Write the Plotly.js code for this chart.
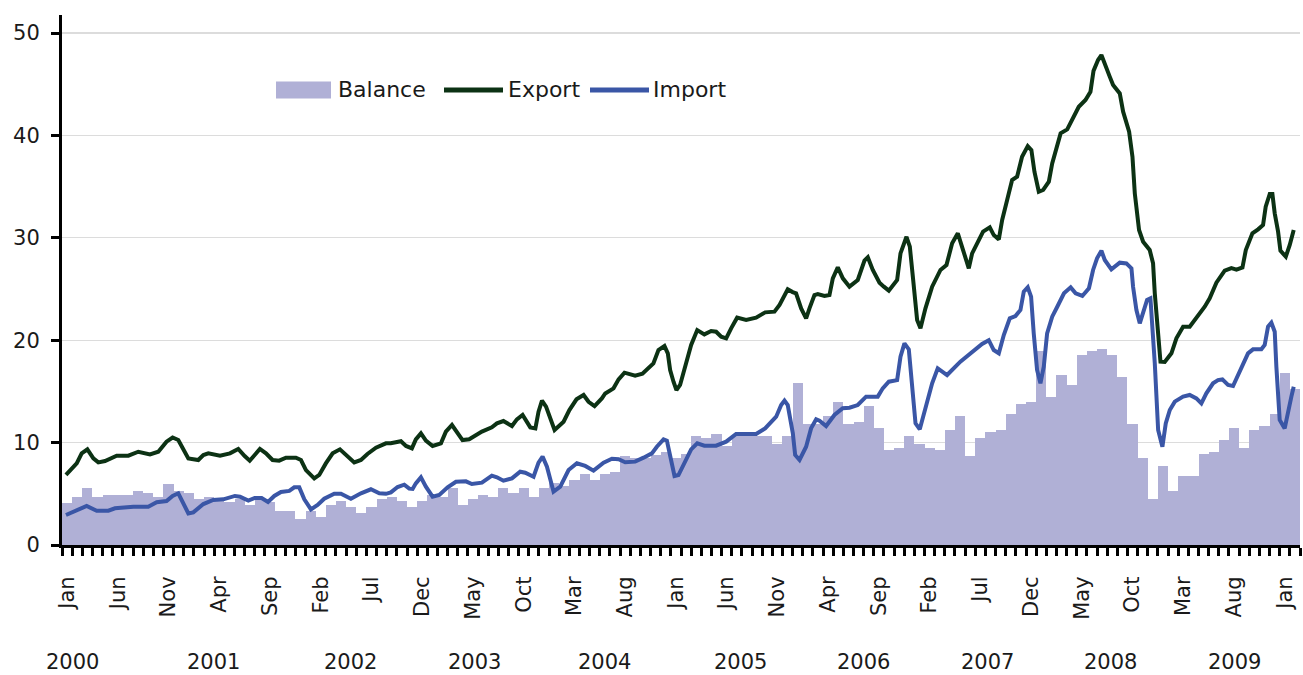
<!DOCTYPE html>
<html>
<head>
<meta charset="utf-8">
<script src="https://cdn.plot.ly/plotly-3.0.1.min.js"></script>
<style>
  html, body { margin: 0; padding: 0; background: #ffffff; }
  #chart { width: 1303px; height: 675px; }
</style>
</head>
<body>
<div id="chart"></div>
<script>
// ---------------- DATA ----------------
// Monthly trade balance, Jan 2000 .. Feb 2010 (one value per month)
const balance = [
  4.13, 4.69, 5.57, 4.69, 4.88, 4.88, 4.88, 5.27, 5.08, 4.69, 5.96, 5.27,   // 2000
  5.08, 4.49, 4.69, 4.49, 4.20, 4.50, 3.94, 4.40, 4.20, 3.35, 3.35, 2.57,   // 2001
  3.35, 2.77, 3.90, 4.33, 3.70, 3.16, 3.70, 4.49, 4.69, 4.33, 3.70, 4.33,   // 2002
  4.88, 4.70, 5.60, 3.90, 4.49, 4.92, 4.72, 5.60, 5.08, 5.60, 4.72, 5.60,   // 2003
  6.05, 5.80, 6.35, 6.96, 6.35, 6.96, 7.13, 8.72, 8.53, 8.53, 8.80, 9.11,   // 2004
  8.53, 8.89, 10.64, 10.48, 10.81, 9.70, 10.64, 10.64, 10.64, 10.64, 9.86, 10.64, // 2005
  15.80, 11.78, 11.78, 12.60, 13.96, 11.78, 11.98, 13.57, 11.40, 9.28, 9.47, 10.64, // 2006
  9.86, 9.47, 9.28, 11.23, 12.60, 8.69, 10.45, 11.04, 11.23, 12.79, 13.77, 13.96, // 2007
  18.91, 14.45, 16.60, 15.60, 18.55, 18.90, 19.10, 18.55, 16.40, 11.80, 8.50, 4.49, // 2008
  7.70, 5.27, 6.74, 6.74, 8.89, 9.08, 10.25, 11.43, 9.47, 11.23, 11.62, 12.79, // 2009
  16.80, 15.23                                                              // 2010
];

// Export and Import: time in months since Jan 2000 (0 = start of Jan 2000) and value
const exportT = [
  0.39, 1.45, 1.94, 2.5, 3.09, 3.58, 4.24, 4.73, 5.39, 6.54, 7.52, 8.67, 9.49, 10.3, 10.9, 11.46,
  12.45, 13.43, 13.93, 14.42, 14.9, 15.57, 16.55, 17.37, 18.0, 18.5, 19.5, 20.1, 20.75, 21.4, 22.07, 23.05,
  23.55, 24.04, 24.86, 25.35, 26.0, 26.67, 27.39, 28.14, 28.8, 29.46, 30.1, 30.94, 31.92, 32.4, 33.07, 33.4,
  33.9, 34.48, 34.87, 35.37, 35.86, 36.52, 37.34, 37.83, 38.43, 38.98, 39.47, 40.13, 40.78, 41.38, 42.36, 42.86,
  43.5, 44.34, 44.83, 45.39, 46.15, 46.65, 46.96, 47.3, 47.7, 48.3, 48.54, 49.43, 50.0, 50.7, 51.4, 51.89,
  52.48, 53.2, 53.53, 54.35, 54.85, 55.43, 56.48, 57.2, 58.28, 58.78, 59.37, 59.7, 59.93, 60.26, 60.55, 60.91,
  61.18, 61.51, 62.0, 62.6, 63.3, 63.97, 64.46, 64.96, 65.45, 65.94, 66.53, 67.42, 68.4, 69.29, 70.21, 70.71,
  71.52, 72.0, 72.34, 72.84, 73.33, 73.66, 74.15, 74.48, 75.14, 75.63, 75.96, 76.45, 76.95, 77.6, 78.42, 79.08,
  79.41, 79.9, 80.56, 80.99, 81.48, 82.3, 82.63, 83.22, 83.55, 83.88, 84.27, 84.6, 85.09, 85.75, 86.57, 87.16,
  87.72, 88.28, 88.8, 89.36, 89.69, 90.18, 90.77, 91.43, 91.82, 92.32, 92.65, 93.14, 93.63, 94.12, 94.61, 95.17,
  95.53, 95.83, 96.26, 96.69, 97.25, 97.58, 98.08, 98.41, 99.06, 99.56, 100.2, 100.86, 101.35, 101.65, 102.1, 102.43,
  102.76, 103.25, 103.58, 104.24, 104.57, 105.16, 105.49, 105.72, 106.14, 106.54, 107.19, 107.52, 107.69, 108.02, 108.25, 108.67,
  109.33, 109.82, 110.48, 111.13, 111.96, 112.61, 113.1, 113.76, 114.58, 115.24, 115.74, 116.33, 116.66, 117.31, 117.87, 118.36,
  118.62, 119.02, 119.28, 119.51, 119.84, 120.07, 120.6, 120.99, 121.38
];
const exportV = [
  6.84, 7.97, 8.95, 9.34, 8.46, 8.07, 8.2, 8.46, 8.72, 8.72, 9.11, 8.85, 9.11, 10.09, 10.5, 10.25,
  8.46, 8.3, 8.79, 8.95, 8.85, 8.72, 8.95, 9.38, 8.69, 8.23, 9.38, 8.95, 8.3, 8.24, 8.53, 8.53,
  8.3, 7.32, 6.51, 6.84, 7.97, 8.95, 9.34, 8.62, 8.07, 8.3, 8.89, 9.5, 9.93, 9.93, 10.13, 10.13,
  9.67, 9.44, 10.32, 10.9, 10.19, 9.67, 9.93, 11.07, 11.72, 10.97, 10.25, 10.32, 10.71, 11.07, 11.49, 11.88,
  12.11, 11.62, 12.27, 12.7, 11.49, 11.39, 13.02, 14.09, 13.51, 11.88, 11.23, 12.04, 13.18, 14.23, 14.65, 13.99,
  13.57, 14.32, 14.8, 15.3, 16.18, 16.83, 16.53, 16.73, 17.74, 19.04, 19.43, 18.72, 17.09, 15.95, 15.14, 15.63,
  16.6, 17.9, 19.53, 20.99, 20.57, 20.9, 20.83, 20.34, 20.18, 21.16, 22.2, 21.97, 22.2, 22.72, 22.79, 23.44,
  24.97, 24.7, 24.58, 23.11, 22.14, 23.11, 24.41, 24.51, 24.32, 24.41, 26.04, 27.12, 26.04, 25.23, 25.88, 27.77,
  28.1, 26.86, 25.62, 25.23, 24.84, 25.88, 28.48, 30.1, 29.13, 25.88, 21.97, 21.16, 23.11, 25.23, 26.86, 27.34,
  29.46, 30.44, 28.81, 27.02, 28.48, 29.39, 30.6, 31.02, 30.27, 29.85, 31.74, 33.69, 35.64, 35.97, 37.92, 38.96,
  38.57, 36.46, 34.5, 34.67, 35.48, 37.27, 39.23, 40.2, 40.59, 41.5, 42.8, 43.46, 44.27, 46.3, 47.36, 47.85,
  46.88, 45.74, 44.92, 44.1, 42.32, 40.36, 37.92, 34.34, 30.76, 29.62, 28.81, 27.51, 24.58, 21.0, 17.9, 17.87,
  18.72, 20.18, 21.32, 21.32, 22.36, 23.27, 24.09, 25.62, 26.79, 27.05, 26.9, 27.1, 28.81, 30.44, 30.83, 31.25,
  33.04, 34.28, 34.28, 32.39, 30.6, 28.74, 28.16, 29.3, 30.76
];
const importT = [
  0.39, 1.45, 2.43, 3.42, 4.57, 5.22, 6.37, 7.03, 8.5, 9.33, 10.3, 10.9, 11.46, 12.45, 12.94, 13.93,
  14.9, 15.9, 17.04, 17.54, 18.36, 19.0, 19.67, 20.3, 20.92, 21.58, 22.4, 22.89, 23.38, 23.88, 24.53, 25.19,
  25.84, 26.83, 27.49, 28.47, 29.46, 30.44, 31.27, 31.92, 32.41, 33.07, 33.73, 34.22, 34.55, 34.87, 35.37, 35.86,
  36.52, 37.18, 38.0, 38.82, 39.8, 40.39, 41.38, 42.36, 42.86, 43.5, 44.34, 45.15, 45.65, 46.47, 46.96, 47.36,
  47.79, 48.44, 49.1, 49.92, 50.74, 51.56, 52.38, 53.37, 54.19, 54.85, 55.5, 56.48, 57.31, 58.13, 58.62, 59.28,
  59.61, 59.93, 60.36, 60.75, 61.08, 61.35, 62.0, 62.6, 63.3, 64.46, 65.45, 66.43, 68.4, 69.29, 70.38, 70.87,
  71.2, 71.52, 72.02, 72.25, 72.68, 73.33, 73.82, 74.32, 74.65, 75.3, 76.12, 76.94, 77.6, 78.42, 79.24, 80.39,
  80.88, 81.48, 82.3, 82.63, 83.02, 83.45, 83.78, 84.11, 84.53, 85.09, 85.75, 86.3, 87.22, 88.53, 89.52, 90.67,
  91.33, 91.82, 92.32, 92.81, 93.4, 93.96, 94.45, 94.78, 95.17, 95.5, 95.76, 96.09, 96.42, 96.75, 97.08, 97.58,
  98.08, 98.74, 99.4, 99.89, 100.55, 101.2, 101.61, 102.0, 102.43, 102.76, 103.41, 104.24, 104.89, 105.39, 105.55, 105.88,
  106.21, 106.54, 106.93, 107.26, 107.46, 107.69, 108.02, 108.44, 108.77, 109.17, 109.66, 110.48, 111.13, 111.79, 112.28, 112.77,
  113.43, 113.92, 114.35, 114.91, 115.4, 115.89, 116.39, 116.88, 117.37, 118.19, 118.52, 118.85, 119.18, 119.51, 119.67, 120.0,
  120.49, 120.82, 121.15, 121.38
];
const importV = [
  2.93, 3.35, 3.81, 3.35, 3.35, 3.58, 3.68, 3.74, 3.74, 4.17, 4.3, 4.79, 5.05, 3.09, 3.19, 4.0,
  4.4, 4.46, 4.79, 4.72, 4.33, 4.59, 4.59, 4.2, 4.79, 5.18, 5.28, 5.63, 5.63, 4.46, 3.48, 3.91,
  4.52, 5.01, 5.01, 4.52, 5.05, 5.44, 5.05, 5.0, 5.14, 5.66, 5.89, 5.5, 5.47, 6.02, 6.61, 5.7,
  4.72, 4.88, 5.63, 6.18, 6.22, 5.96, 6.09, 6.77, 6.61, 6.28, 6.51, 7.16, 7.06, 6.67, 8.04, 8.63,
  7.65, 5.21, 5.7, 7.32, 7.98, 7.72, 7.26, 8.04, 8.43, 8.37, 8.08, 8.14, 8.53, 8.95, 9.6, 10.32,
  10.19, 8.63, 6.74, 6.83, 7.49, 8.14, 9.34, 9.93, 9.7, 9.7, 10.09, 10.84, 10.84, 11.39, 12.53, 13.67,
  14.1, 13.67, 10.9, 8.79, 8.3, 9.6, 11.39, 12.27, 12.14, 11.62, 12.7, 13.35, 13.41, 13.67, 14.49, 14.49,
  15.3, 15.95, 16.1, 18.39, 19.69, 19.1, 15.79, 11.88, 11.3, 13.5, 15.79, 17.25, 16.6, 17.9, 18.72, 19.63,
  20.0, 19.04, 18.72, 20.5, 22.14, 22.36, 22.95, 24.74, 25.16, 24.25, 20.67, 17.09, 15.79, 17.42, 20.67, 22.3,
  23.27, 24.58, 25.16, 24.58, 24.32, 25.07, 26.86, 28.0, 28.74, 27.83, 26.92, 27.57, 27.5, 27.02, 25.23, 22.95,
  21.65, 22.62, 23.93, 24.09, 21.65, 17.74, 11.23, 9.6, 11.88, 13.18, 14.0, 14.49, 14.65, 14.32, 13.83, 14.81,
  15.79, 16.1, 16.17, 15.63, 15.53, 16.6, 17.58, 18.72, 19.11, 19.11, 19.53, 21.32, 21.71, 20.83, 17.42, 12.21,
  11.39, 13.18, 14.49, 15.46
];

// Axis labels
const monthTickLabels = ['Jan','Jun','Nov','Apr','Sep','Feb','Jul','Dec','May','Oct','Mar','Aug','Jan',
                         'Jun','Nov','Apr','Sep','Feb','Jul','Dec','May','Oct','Mar','Aug','Jan'];
const yearLabels = ['2000','2001','2002','2003','2004','2005','2006','2007','2008','2009'];
const seriesNames = ['Balance', 'Export', 'Import'];

// ---------------- STYLE / LAYOUT ----------------
const FONT = 'DejaVu Sans, Liberation Sans, sans-serif';
const TXT = '#1a1a1a';
const C_BAL = '#b0b0d6', C_EXP = '#0c3214', C_IMP = '#3a56a6';

// plot area in pixels (for legend / year label placement)
const L = 62, R = 3, T = 15, B = 130, W = 1303, H = 675;
const PW = W - L - R, PH = H - T - B;
const px = x => (x - L) / PW;           // pixel x -> paper
const py = y => (H - B - y) / PH;       // pixel y -> paper

const nMonths = balance.length;
const barX = balance.map((_, i) => i + 0.5);
const tickVals = monthTickLabels.map((_, i) => i * 5 + 0.5);

const traces = [
  { type: 'bar', name: seriesNames[0], x: barX, y: balance, width: 1,
    marker: { color: C_BAL, line: { width: 0 } }, hoverinfo: 'y' },
  { type: 'scatter', mode: 'lines', name: seriesNames[1], x: exportT, y: exportV,
    line: { color: C_EXP, width: 4 } },
  { type: 'scatter', mode: 'lines', name: seriesNames[2], x: importT, y: importV,
    line: { color: C_IMP, width: 4 } }
];

// year label centres (pixels) under the month labels
const yearPx = [72.5, 213, 350.5, 474.5, 604.5, 740, 863, 987, 1110, 1234];

const annotations = yearLabels.map((t, i) => ({
  text: t, xref: 'paper', yref: 'paper', x: px(yearPx[i]), y: py(662),
  xanchor: 'center', yanchor: 'middle', showarrow: false,
  font: { family: FONT, size: 21, color: TXT }
}));

// custom legend
const legY = 90;
const legendItems = [
  { name: seriesNames[0], kind: 'rect', x0: 276, x1: 331, tx: 336, color: C_BAL },
  { name: seriesNames[1], kind: 'line', x0: 444, x1: 503, tx: 506, color: C_EXP },
  { name: seriesNames[2], kind: 'line', x0: 590, x1: 649, tx: 651, color: C_IMP }
];
const shapes = [];
legendItems.forEach(it => {
  if (it.kind === 'rect') {
    shapes.push({ type: 'rect', xref: 'paper', yref: 'paper',
      x0: px(it.x0), x1: px(it.x1), y0: py(legY + 8.5), y1: py(legY - 8.5),
      fillcolor: it.color, line: { width: 0 } });
  } else {
    shapes.push({ type: 'line', xref: 'paper', yref: 'paper',
      x0: px(it.x0), x1: px(it.x1), y0: py(legY), y1: py(legY),
      line: { color: it.color, width: 5 } });
  }
  annotations.push({ text: it.name, xref: 'paper', yref: 'paper',
    x: px(it.tx), y: py(legY), xanchor: 'left', yanchor: 'middle', showarrow: false,
    font: { family: FONT, size: 22, color: TXT } });
});

const layout = {
  width: W, height: H,
  margin: { l: L, r: R, t: T, b: B, pad: 0 },
  paper_bgcolor: '#ffffff', plot_bgcolor: '#ffffff',
  showlegend: false,
  bargap: 0,
  font: { family: FONT, size: 20, color: TXT },
  xaxis: {
    type: 'linear', range: [0, nMonths], fixedrange: true,
    showline: true, linecolor: '#000000', linewidth: 3,
    showgrid: false, zeroline: false,
    tickmode: 'array', tickvals: tickVals, ticktext: monthTickLabels,
    tickangle: -90, ticks: '', ticklabelstandoff: 20,
    tickfont: { family: FONT, size: 21, color: TXT },
    minor: { dtick: 1, tick0: 0, ticks: 'outside', ticklen: 8, tickwidth: 3,
             tickcolor: '#000000', showgrid: false }
  },
  yaxis: {
    range: [0, 51.76], fixedrange: true, dtick: 10, tick0: 0,
    showline: true, linecolor: '#000000', linewidth: 3,
    ticks: 'outside', ticklen: 8, tickwidth: 3, tickcolor: '#000000',
    showgrid: true, gridcolor: '#dcdcdc', gridwidth: 1.3, zeroline: false,
    ticklabelstandoff: 7,
    tickfont: { family: FONT, size: 21, color: TXT }
  },
  shapes: shapes,
  annotations: annotations
};

Plotly.newPlot('chart', traces, layout, { staticPlot: true, displayModeBar: false });
</script>
</body>
</html>
